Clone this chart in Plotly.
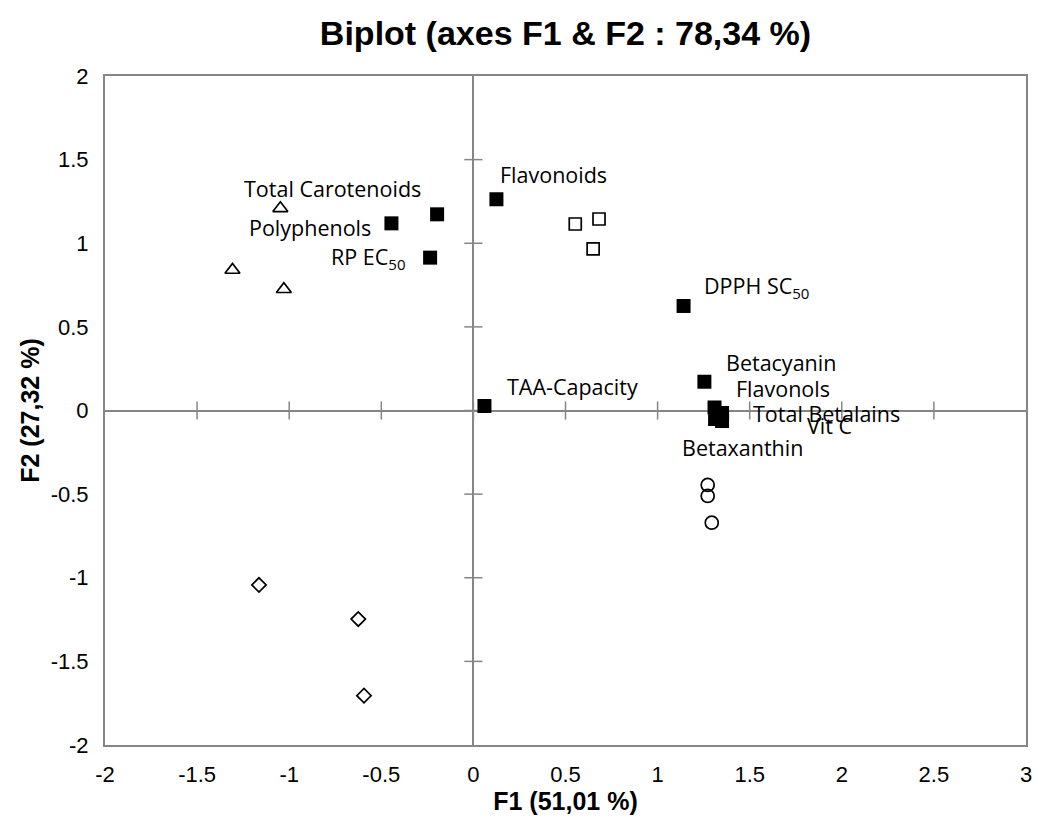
import plotly.graph_objects as go

# ---- data ----
var_names = ["Total Carotenoids", "Polyphenols", "RP EC<sub>50</sub>", "Flavonoids",
             "DPPH SC<sub>50</sub>", "Betacyanin", "Flavonols", "Total Betalains",
             "Vit C", "Betaxanthin", "TAA-Capacity"]
var_f1 = [-0.197, -0.445, -0.235, 0.125, 1.141, 1.254, 1.309, 1.350, 1.350, 1.312, 0.060]
var_f2 = [1.173, 1.119, 0.914, 1.263, 0.625, 0.172, 0.018, -0.015, -0.063, -0.051, 0.027]

tri_f1 = [-1.048, -1.308, -1.029]
tri_f2 = [1.209, 0.840, 0.725]
sq_f1 = [0.553, 0.682, 0.650]
sq_f2 = [1.115, 1.145, 0.966]
circ_f1 = [1.272, 1.272, 1.294]
circ_f2 = [-0.445, -0.511, -0.671]
dia_f1 = [-1.164, -0.625, -0.594]
dia_f2 = [-1.043, -1.247, -1.705]

x_ticks = [-2, -1.5, -1, -0.5, 0, 0.5, 1, 1.5, 2, 2.5, 3]
y_ticks = [-2, -1.5, -1, -0.5, 0, 0.5, 1, 1.5, 2]

title_text = "Biplot (axes F1 & F2 : 78,34 %)"
x_title = "F1 (51,01 %)"
y_title = "F2 (27,32 %)"

# label pixel offsets (layout only)
label_dx = [-105, -81, -62, 57, 73, 77, 68, 104, 107, 27, 88]
label_dy = [26, -4, 0, 25, 19, 19, 19, 0, -4, -28, 19]

GRAY = "#868686"
fig = go.Figure()

# cross tick marks on the zero axes
xt_inner = [v for v in x_ticks if v not in (x_ticks[0], x_ticks[-1])]
yt_inner = [v for v in y_ticks if v not in (y_ticks[0], y_ticks[-1])]
fig.add_trace(go.Scatter(x=xt_inner, y=[0] * len(xt_inner), mode="markers",
                         marker=dict(symbol="line-ns", size=13, line=dict(color=GRAY, width=1.5)),
                         hoverinfo="skip", showlegend=False))
fig.add_trace(go.Scatter(x=[0] * len(yt_inner), y=yt_inner, mode="markers",
                         marker=dict(symbol="line-ew", size=13, line=dict(color=GRAY, width=1.5)),
                         hoverinfo="skip", showlegend=False))

fig.add_trace(go.Scatter(x=tri_f1, y=tri_f2, mode="markers",
                         marker=dict(symbol="triangle-up-open", size=13, color="black", line=dict(width=1.7)),
                         showlegend=False))
fig.add_trace(go.Scatter(x=sq_f1, y=sq_f2, mode="markers",
                         marker=dict(symbol="square-open", size=12, color="black", line=dict(width=1.7)),
                         showlegend=False))
fig.add_trace(go.Scatter(x=circ_f1, y=circ_f2, mode="markers",
                         marker=dict(symbol="circle-open", size=13, color="black", line=dict(width=1.7)),
                         showlegend=False))
fig.add_trace(go.Scatter(x=dia_f1, y=dia_f2, mode="markers",
                         marker=dict(symbol="diamond-open", size=11, color="black", line=dict(width=1.7)),
                         showlegend=False))
fig.add_trace(go.Scatter(x=var_f1, y=var_f2, mode="markers",
                         marker=dict(symbol="square", size=14, color="black", line=dict(width=0)),
                         text=var_names, hoverinfo="text", showlegend=False))

for name, x, y, dx, dy in zip(var_names, var_f1, var_f2, label_dx, label_dy):
    fig.add_annotation(x=x, y=y, text=name, showarrow=False, xanchor="center", yanchor="middle",
                       xshift=dx, yshift=dy,
                       font=dict(family="Open Sans", size=21.5, color="black"))

axis_common = dict(showgrid=False, showline=True, mirror=True, linecolor=GRAY, linewidth=2,
                   zeroline=True, zerolinecolor=GRAY, zerolinewidth=2,
                   ticks="outside", tickcolor="rgba(0,0,0,0)",
                   tickfont=dict(family="Liberation Sans", size=22, color="black"))

fig.update_layout(
    width=1040, height=827,
    paper_bgcolor="white", plot_bgcolor="white",
    margin=dict(l=105, r=8, t=76, b=82),
    title=dict(text="<b>" + title_text + "</b>", x=0.5, xref="paper", y=1 - 33 / 827,
               yref="container", xanchor="center", yanchor="middle",
               font=dict(family="Liberation Sans", size=34, color="black")),
    xaxis=dict(range=[-2, 3], tickvals=x_ticks, ticktext=[f"{v:g}" for v in x_ticks], ticklen=9,
               title=dict(text="<b>" + x_title + "</b>", standoff=6,
                          font=dict(family="Liberation Sans", size=25, color="black")),
               **axis_common),
    yaxis=dict(range=[-2, 2], tickvals=y_ticks, ticktext=[f"{v:g}" for v in y_ticks], ticklen=10,
               title=dict(text="<b>" + y_title + "</b>", standoff=4,
                          font=dict(family="Liberation Sans", size=25, color="black")),
               **axis_common),
)

fig.write_html("out.html", config={"displayModeBar": False},
               post_script="document.body.style.margin='0';document.body.style.overflow='hidden';")
